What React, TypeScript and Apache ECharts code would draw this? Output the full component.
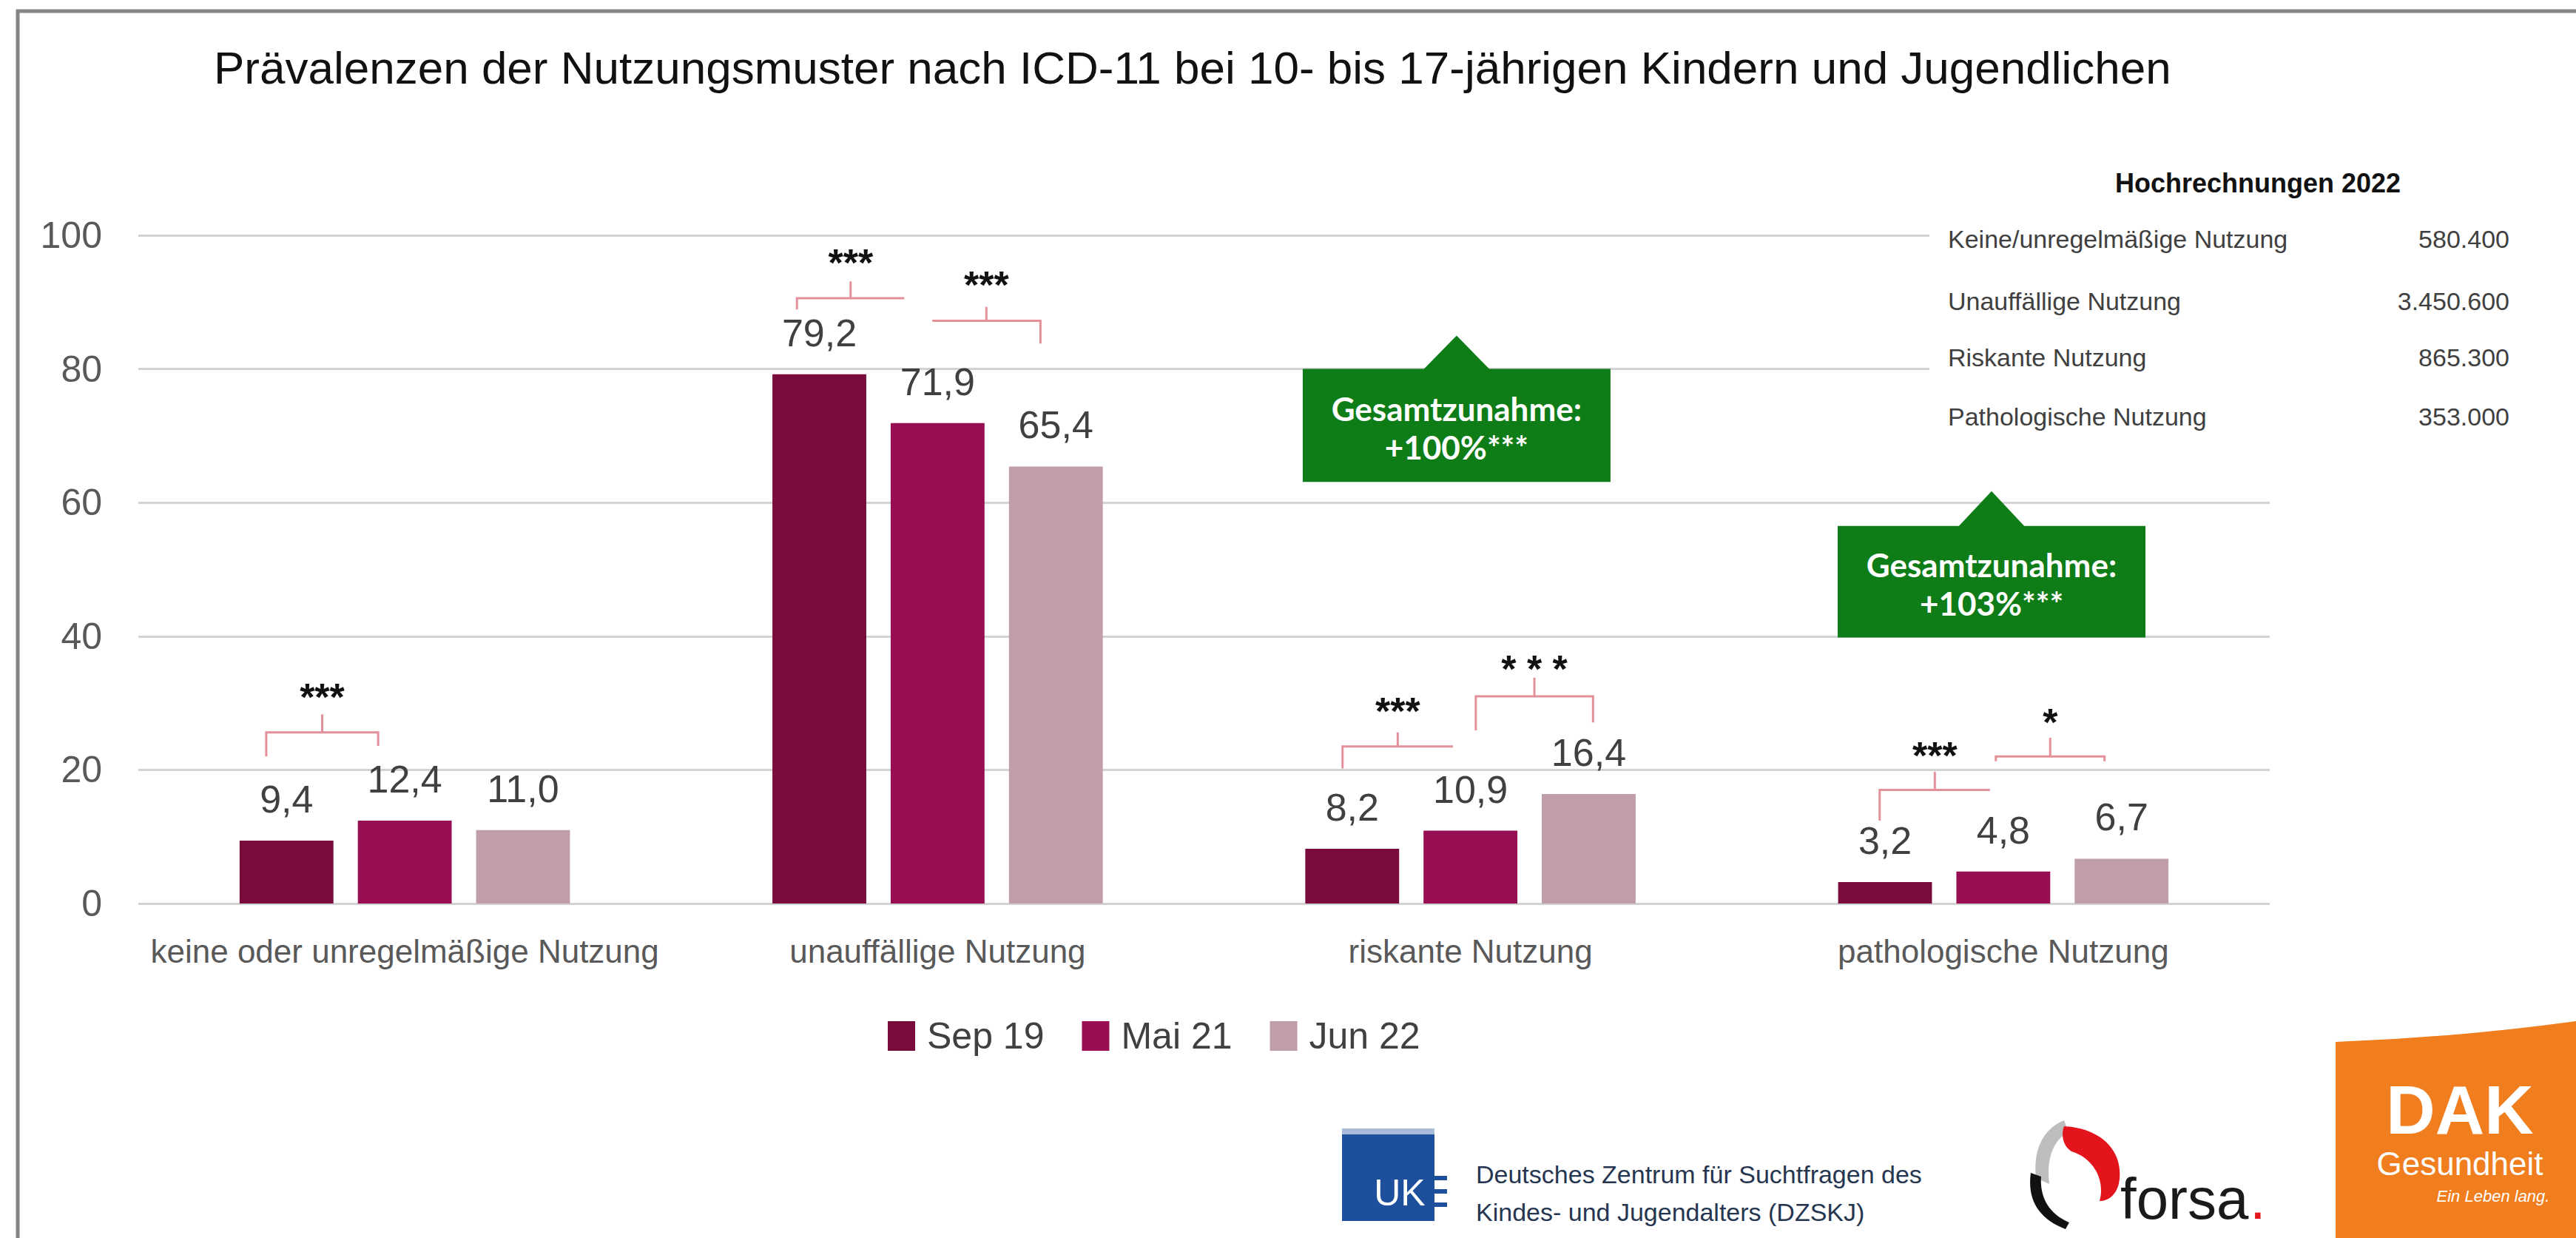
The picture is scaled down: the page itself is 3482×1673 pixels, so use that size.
import React, { useEffect, useRef } from 'react';
import * as echarts from 'echarts';

const FONT = '"Liberation Sans", Arial, sans-serif';

// ---- chart data ----
const categories = [
  'keine oder unregelmäßige Nutzung',
  'unauffällige Nutzung',
  'riskante Nutzung',
  'pathologische Nutzung',
];
const seriesNames = ['Sep 19', 'Mai 21', 'Jun 22'];
const sep19 = [9.4, 79.2, 8.2, 3.2];
const mai21 = [12.4, 71.9, 10.9, 4.8];
const jun22 = [11.0, 65.4, 16.4, 6.7];
const seriesColors = ['#7A0B3D', '#970E52', '#C09DA7'];
const yMin = 0;
const yMax = 100;
const yStep = 20;

// ---- significance brackets (category index, band-relative span, value levels) ----
const bracketCategory = [0, 1, 1, 2, 2, 3, 3];
const bracketStart = [-0.26, -0.264, -0.01, -0.24, 0.01, -0.232, -0.014];
const bracketEnd = [-0.05, -0.0625, 0.193, -0.033, 0.23, -0.025, 0.19];
const bracketLevel = [25.6, 90.6, 87.2, 23.5, 31.0, 17.0, 22.0];
const bracketLeftEnd = [22.0, 88.9, 87.2, 20.2, 25.9, 12.4, 21.3];
const bracketRightEnd = [23.6, 90.6, 83.8, 23.5, 27.1, 17.0, 21.3];
const bracketTickTop = [28.3, 93.1, 89.3, 25.6, 33.8, 19.7, 24.8];
const bracketStarLevel = [32.0, 97.0, 93.7, 29.9, 36.2, 23.3, 28.2];
const bracketStars = ['***', '***', '***', '***', '* * *', '***', '*'];

// ---- callouts ----
const calloutCategory = [2, 3];
const calloutOffset = [-0.026, -0.022];
const calloutTop = [80.0, 56.5];
const calloutBottom = [63.1, 39.8];
const calloutApex = [85.0, 61.7];
const calloutText = ['Gesamtzunahme:\n+100%***', 'Gesamtzunahme:\n+103%***'];

// ---- projection table ----
const tableTitle = 'Hochrechnungen 2022';
const tableLabels = [
  'Keine/unregelmäßige Nutzung',
  'Unauffällige Nutzung',
  'Riskante Nutzung',
  'Pathologische Nutzung',
];
const tableValues = ['580.400', '3.450.600', '865.300', '353.000'];

const TITLE = 'Prävalenzen der Nutzungsmuster nach ICD-11 bei 10- bis 17-jährigen Kindern und Jugendlichen';

function registerShapes() {
  const reg = (name: string, d: string) =>
    echarts.graphic.registerShape(name, echarts.graphic.extendPath(d, {}) as any);
  reg('dakbg', 'M3157,1408 Q3320,1402 3482,1380 L3482,1673 L3157,1673 Z');
  reg('forsared', 'M2790,1522 C2845,1525 2872,1560 2864,1600 C2860,1615 2850,1623 2838,1623 C2846,1595 2830,1565 2800,1556 C2790,1550 2785,1535 2790,1522 Z');
  reg('forsagray', 'M2790,1514 C2760,1526 2748,1556 2752,1592 L2770,1600 C2766,1566 2775,1541 2796,1530 Z');
  reg('forsablack', 'M2745,1585 C2740,1622 2756,1647 2792,1661 L2797,1652 C2768,1640 2757,1616 2759,1590 Z');
}

function txt(text: string, x: number, y: number, size: number, fill: string, opts: any = {}) {
  const align = opts.align || 'left';
  const va = opts.va || 'middle';
  return {
    type: 'text',
    z: 100,
    style: {
      text,
      x,
      y,
      fill,
      fontSize: size,
      fontFamily: opts.family || FONT,
      fontWeight: opts.weight || 'normal',
      fontStyle: opts.style || 'normal',
      align,
      verticalAlign: va,
      textAlign: align,
      textVerticalAlign: va,
    },
  };
}

function buildGraphics() {
  const els: any[] = [];
  // frame
  els.push({ type: 'line', z: 100, shape: { x1: 22, y1: 15, x2: 3482, y2: 15 }, style: { stroke: '#858585', lineWidth: 5 } });
  els.push({ type: 'line', z: 100, shape: { x1: 24, y1: 13, x2: 24, y2: 1673 }, style: { stroke: '#858585', lineWidth: 5 } });
  // title
  els.push(txt(TITLE, 289, 91, 62, '#111111'));
  // table background
  els.push({ type: 'rect', z: 90, shape: { x: 2608, y: 200, width: 862, height: 400 }, style: { fill: '#ffffff' } });
  els.push(txt(tableTitle, 3052, 247, 36, '#111111', { align: 'center', weight: 'bold' }));
  const rowY = [323, 407, 483, 563];
  tableLabels.forEach((l, i) => {
    els.push(txt(l, 2633, rowY[i], 34, '#404040'));
    els.push(txt(tableValues[i], 3392, rowY[i], 34, '#404040', { align: 'right' }));
  });
  // UKE logo
  els.push({ type: 'rect', z: 100, shape: { x: 1814, y: 1525, width: 125, height: 125 }, style: { fill: '#1D4F9C' } });
  els.push({ type: 'rect', z: 101, shape: { x: 1814, y: 1525, width: 125, height: 8 }, style: { fill: '#A8BBD8' } });
  els.push(txt('UK', 1892, 1612, 50, '#ffffff', { align: 'center' }));
  [1592, 1610, 1628].forEach((yy) => {
    els.push({ type: 'rect', z: 101, shape: { x: 1939, y: yy - 3, width: 17, height: 6 }, style: { fill: '#1D4F9C' } });
  });
  els.push(txt('Deutsches Zentrum für Suchtfragen des', 1995, 1587, 34, '#263650'));
  els.push(txt('Kindes- und Jugendalters (DZSKJ)', 1995, 1638, 34, '#263650'));
  // forsa logo
  els.push({ type: 'forsagray', z: 100, style: { fill: '#BDBDBD' } });
  els.push({ type: 'forsared', z: 101, style: { fill: '#E3141B' } });
  els.push({ type: 'forsablack', z: 101, style: { fill: '#111111' } });
  els.push(txt('forsa', 2866, 1620, 78, '#1A1A1A'));
  els.push(txt('.', 3041, 1620, 78, '#E3141B'));
  // DAK logo
  els.push({ type: 'dakbg', z: 100, style: { fill: '#F07D1E' } });
  els.push(txt('DAK', 3325, 1500, 92, '#ffffff', { align: 'center', weight: 'bold' }));
  els.push(txt('Gesundheit', 3325, 1572, 44, '#ffffff', { align: 'center' }));
  els.push(txt('Ein Leben lang.', 3370, 1616, 22, '#ffffff', { align: 'center', style: 'italic' }));
  return els;
}

function bracketRender(params: any, api: any) {
  const i = params.dataIndex;
  const cat = api.value(0);
  const base = api.coord([cat, 0]);
  const band = api.size([1, 0])[0];
  const yOf = (v: number) => api.coord([cat, v])[1];
  const x0 = base[0] + api.value(1) * band;
  const x1 = base[0] + api.value(2) * band;
  const xc = (x0 + x1) / 2;
  const yl = yOf(api.value(3));
  const stroke = { stroke: '#E3909B', lineWidth: 3, fill: null };
  return {
    type: 'group',
    children: [
      {
        type: 'polyline',
        shape: { points: [[x0, yOf(api.value(4))], [x0, yl], [x1, yl], [x1, yOf(api.value(5))]] },
        style: stroke,
      },
      { type: 'line', shape: { x1: xc, y1: yl, x2: xc, y2: yOf(api.value(6)) }, style: stroke },
      {
        type: 'text',
        style: {
          text: bracketStars[i],
          x: xc,
          y: yOf(api.value(7)) + 10,
          fill: '#111111',
          fontSize: 52,
          fontWeight: 'bold',
          fontFamily: FONT,
          align: 'center',
          verticalAlign: 'middle',
          textAlign: 'center',
          textVerticalAlign: 'middle',
        },
      },
    ],
  };
}

function calloutRender(params: any, api: any) {
  const i = params.dataIndex;
  const cat = api.value(0);
  const base = api.coord([cat, 0]);
  const band = api.size([1, 0])[0];
  const yOf = (v: number) => api.coord([cat, v])[1];
  const cx = base[0] + api.value(1) * band;
  const yt = yOf(api.value(2));
  const yb = yOf(api.value(3));
  const ya = yOf(api.value(4));
  const green = '#0E7C17';
  const halfW = 208;
  return {
    type: 'group',
    children: [
      { type: 'rect', shape: { x: cx - halfW, y: yt, width: halfW * 2, height: yb - yt }, style: { fill: green } },
      { type: 'polygon', shape: { points: [[cx - 46, yt + 2], [cx, ya], [cx + 46, yt + 2]] }, style: { fill: green } },
      {
        type: 'text',
        style: {
          text: calloutText[i],
          x: cx,
          y: (yt + yb) / 2 + 3,
          fill: '#ffffff',
          fontSize: 44,
          fontWeight: 'bold',
          fontFamily: 'Lato, "Liberation Sans", Arial, sans-serif',
          lineHeight: 52,
          align: 'center',
          verticalAlign: 'middle',
          textAlign: 'center',
          textVerticalAlign: 'middle',
        },
      },
    ],
  };
}

function buildOption() {
  const barData = [sep19, mai21, jun22];
  const bars = seriesNames.map((name, k) => ({
    name,
    type: 'bar',
    data: barData[k],
    barGap: '26%',
    barCategoryGap: '38%',
    z: 2,
    itemStyle: { color: seriesColors[k] },
    label: {
      show: true,
      position: 'top',
      distance: 30,
      color: '#404040',
      fontSize: 52,
      fontFamily: FONT,
      formatter: (p: any) => Number(p.value).toFixed(1).replace('.', ','),
    },
  }));
  const bracketData = bracketCategory.map((c, i) => [
    c,
    bracketStart[i],
    bracketEnd[i],
    bracketLevel[i],
    bracketLeftEnd[i],
    bracketRightEnd[i],
    bracketTickTop[i],
    bracketStarLevel[i],
  ]);
  const calloutData = calloutCategory.map((c, i) => [
    c,
    calloutOffset[i],
    calloutTop[i],
    calloutBottom[i],
    calloutApex[i],
  ]);
  return {
    animation: false,
    backgroundColor: '#ffffff',
    textStyle: { fontFamily: FONT },
    grid: { left: 187, right: 414, top: 318, bottom: 452, containLabel: false, outerBoundsMode: 'none' },
    legend: {
      data: seriesNames,
      left: 1200,
      top: 1375,
      padding: 0,
      itemWidth: 37,
      itemHeight: 40,
      itemGap: 51,
      icon: 'rect',
      selectedMode: false,
      textStyle: { fontSize: 50, color: '#404040', fontFamily: FONT, padding: [0, 0, 0, 11] },
    },
    xAxis: {
      type: 'category',
      data: categories,
      axisLine: { show: false },
      axisTick: { show: false },
      axisLabel: { fontSize: 44, color: '#595959', margin: 42, fontFamily: FONT, interval: 0 },
      splitLine: { show: false },
    },
    yAxis: {
      type: 'value',
      min: yMin,
      max: yMax,
      interval: yStep,
      axisLine: { show: false },
      axisTick: { show: false },
      axisLabel: { fontSize: 50, color: '#595959', margin: 49, fontFamily: FONT },
      splitLine: { show: true, lineStyle: { color: '#D3D3D3', width: 3 } },
    },
    series: [
      ...bars,
      {
        name: 'brackets',
        type: 'custom',
        renderItem: bracketRender,
        data: bracketData,
        z: 3,
        silent: true,
        clip: false,
        encode: { x: 0, y: 3 },
      },
      {
        name: 'callouts',
        type: 'custom',
        renderItem: calloutRender,
        data: calloutData,
        z: 4,
        silent: true,
        clip: false,
        encode: { x: 0, y: 2 },
      },
    ],
    graphic: { elements: buildGraphics() },
  };
}

export default function App() {
  const ref = useRef<HTMLDivElement>(null);
  useEffect(() => {
    document.body.style.margin = '0';
    document.body.style.overflow = 'hidden';
    registerShapes();
    const chart = echarts.init(ref.current as HTMLDivElement, null, { renderer: 'svg' });
    chart.setOption(buildOption() as any);
    return () => {
      chart.dispose();
    };
  }, []);
  return <div ref={ref} style={{ width: 3482, height: 1673, background: '#ffffff' }} />;
}
